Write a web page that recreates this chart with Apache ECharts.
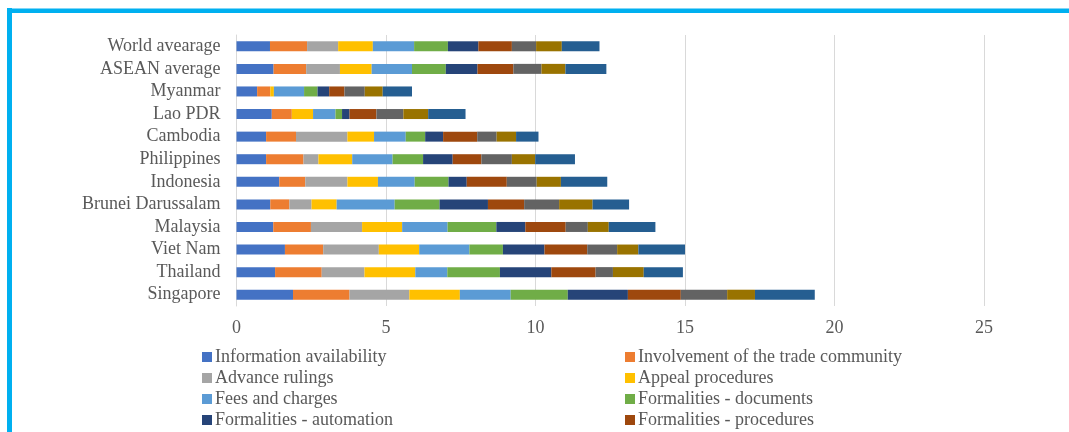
<!DOCTYPE html>
<html>
<head>
<meta charset="utf-8">
<title>Trade Facilitation Indicators – ASEAN</title>
<script src="https://cdn.jsdelivr.net/npm/echarts@6/dist/echarts.min.js"></script>
<style>
  html, body { margin: 0; padding: 0; background: #ffffff; }
  #chart { width: 1069px; height: 432px; }
</style>
</head>
<body>
<div id="chart"></div>
<script>
// Economies, listed top to bottom
const economies = [
  'World avearage', 'ASEAN average', 'Myanmar', 'Lao PDR', 'Cambodia',
  'Philippines', 'Indonesia', 'Brunei Darussalam', 'Malaysia', 'Viet Nam',
  'Thailand', 'Singapore'
];

// Indicator scores per economy (same order as economies)
const infoAvailability   = [1.12, 1.24, 0.69, 1.18, 0.99, 0.99, 1.43, 1.13, 1.23, 1.62, 1.29, 1.89];
const tradeCommunity     = [1.24, 1.09, 0.44, 0.67, 1.00, 1.25, 0.87, 0.64, 1.26, 1.28, 1.56, 1.89];
const advanceRulings     = [1.04, 1.13, 0.00, 0.00, 1.72, 0.50, 1.41, 0.74, 1.71, 1.86, 1.43, 2.00];
const appealProcedures   = [1.16, 1.06, 0.12, 0.71, 0.89, 1.13, 1.02, 0.84, 1.34, 1.35, 1.70, 1.69];
const feesCharges        = [1.38, 1.35, 1.01, 0.75, 1.06, 1.35, 1.23, 1.94, 1.52, 1.68, 1.07, 1.70];
const formDocuments      = [1.13, 1.13, 0.45, 0.22, 0.65, 1.02, 1.13, 1.50, 1.63, 1.12, 1.76, 1.91];
const formAutomation     = [1.02, 1.06, 0.39, 0.25, 0.60, 0.99, 0.61, 1.62, 0.97, 1.39, 1.72, 2.01];
const formProcedures     = [1.12, 1.20, 0.51, 0.90, 1.14, 0.96, 1.34, 1.21, 1.35, 1.43, 1.48, 1.77];
const internalCoop       = [0.81, 0.94, 0.68, 0.90, 0.65, 1.02, 1.00, 1.17, 0.74, 1.00, 0.58, 1.55];
const externalCoop       = [0.86, 0.80, 0.60, 0.83, 0.65, 0.78, 0.81, 1.12, 0.70, 0.71, 1.03, 0.93];
const governance         = [1.26, 1.37, 0.98, 1.25, 0.75, 1.33, 1.55, 1.22, 1.56, 1.56, 1.31, 2.00];

// Value axis ticks
const axisTicks = [0, 5, 10, 15, 20, 25];

const indicators = [
  { name: 'Information availability',            data: infoAvailability, color: '#4472C4' },
  { name: 'Involvement of the trade community',  data: tradeCommunity,   color: '#ED7D31' },
  { name: 'Advance rulings',                     data: advanceRulings,   color: '#A5A5A5' },
  { name: 'Appeal procedures',                   data: appealProcedures, color: '#FFC000' },
  { name: 'Fees and charges',                    data: feesCharges,      color: '#5B9BD5' },
  { name: 'Formalities - documents',             data: formDocuments,    color: '#70AD47' },
  { name: 'Formalities - automation',            data: formAutomation,   color: '#264478' },
  { name: 'Formalities - procedures',            data: formProcedures,   color: '#9E480E' },
  { name: 'Internal border agency co-operation', data: internalCoop,     color: '#636363' },
  { name: 'External border agency co-operation', data: externalCoop,     color: '#997300' },
  { name: 'Governance and impartiality',         data: governance,       color: '#255E91' }
];

const FONT = '"Liberation Serif", "Times New Roman", serif';
const TEXT = '#595959';

const series = indicators.map(ind => ({
  name: ind.name,
  type: 'bar',
  stack: 'tfi',
  barWidth: 10,
  data: ind.data,
  itemStyle: { color: ind.color },
  emphasis: { disabled: true }
}));

const legendCommon = {
  orient: 'vertical',
  top: 343,
  height: 300,
  itemWidth: 10,
  itemHeight: 10,
  itemGap: 3,
  icon: 'rect',
  selectedMode: false,
  textStyle: { fontFamily: FONT, fontSize: 18, color: TEXT, lineHeight: 18, padding: [0, 0, 0, -2] }
};

const chart = echarts.init(document.getElementById('chart'), null, { renderer: 'canvas' });
chart.setOption({
  animation: false,
  backgroundColor: '#ffffff',
  color: indicators.map(i => i.color),
  grid: { left: 236.5, right: 85, top: 35, bottom: 126, containLabel: false },
  xAxis: {
    type: 'value',
    min: axisTicks[0],
    max: axisTicks[axisTicks.length - 1],
    interval: axisTicks[1] - axisTicks[0],
    axisLine: { show: false },
    axisTick: { show: false },
    axisLabel: { fontFamily: FONT, fontSize: 18, color: TEXT, margin: 13 },
    splitLine: { lineStyle: { color: '#D9D9D9', width: 1 } }
  },
  yAxis: {
    type: 'category',
    inverse: true,
    data: economies,
    axisLine: { show: true, lineStyle: { color: '#D9D9D9', width: 1 } },
    axisTick: { show: false },
    axisLabel: { fontFamily: FONT, fontSize: 18, color: TEXT, margin: 16, interval: 0 }
  },
  legend: [
    Object.assign({}, legendCommon, {
      left: 197,
      data: indicators.filter((_, i) => i % 2 === 0).map(i => i.name)
    }),
    Object.assign({}, legendCommon, {
      left: 620,
      data: indicators.filter((_, i) => i % 2 === 1).map(i => i.name)
    })
  ],
  graphic: [
    // frame accent along the top and left edges
    { type: 'rect', silent: true, shape: { x: 7, y: 8, width: 1070, height: 5 }, style: { fill: '#00B0F0' } },
    { type: 'rect', silent: true, shape: { x: 7, y: 8, width: 1070, height: 1 }, style: { fill: '#7FD6F7' } },
    { type: 'rect', silent: true, shape: { x: 7, y: 8, width: 5, height: 430 }, style: { fill: '#00B0F0' } }
  ],
  series: series
});
</script>
</body>
</html>
